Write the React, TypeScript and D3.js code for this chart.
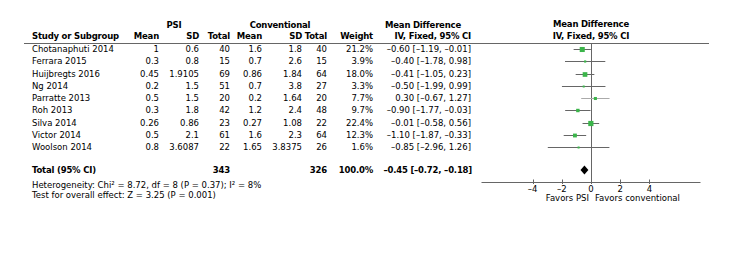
import React from "react";
import * as d3 from "d3";

const studies = ["Chotanaphuti 2014", "Ferrara 2015", "Huijbregts 2016", "Ng 2014", "Parratte 2013", "Roh 2013", "Silva 2014", "Victor 2014", "Woolson 2014"];
const psiMean = [1, 0.3, 0.45, 0.2, 0.5, 0.3, 0.26, 0.5, 0.8];
const psiSD = [0.6, 0.8, 1.9105, 1.5, 1.5, 1.8, 0.86, 2.1, 3.6087];
const psiTotal = [40, 15, 69, 51, 20, 42, 23, 61, 22];
const convMean = [1.6, 0.7, 0.86, 0.7, 0.2, 1.2, 0.27, 1.6, 1.65];
const convSD = [1.8, 2.6, 1.84, 3.8, 1.64, 2.4, 1.08, 2.3, 3.8375];
const convTotal = [40, 15, 64, 27, 20, 48, 22, 64, 26];
const weights = [21.2, 3.9, 18.0, 3.3, 7.7, 9.7, 22.4, 12.3, 1.6];
const md = [-0.6, -0.4, -0.41, -0.5, 0.3, -0.9, -0.01, -1.1, -0.85];
const ciLow = [-1.19, -1.78, -1.05, -1.99, -0.67, -1.77, -0.58, -1.87, -2.96];
const ciHigh = [-0.01, 0.98, 0.23, 0.99, 1.27, -0.03, 0.56, -0.33, 1.26];
const total = { psi: 343, conv: 326, weight: 100.0, md: -0.45, lo: -0.72, hi: -0.18 };
const axisTicks = [-4, -2, 0, 2, 4];
const heterogeneity = "Heterogeneity: Chi² = 8.72, df = 8 (P = 0.37); I² = 8%";
const overall = "Test for overall effect: Z = 3.25 (P = 0.001)";

const FONT = "'DejaVu Sans', sans-serif";
const FS = 8.5;
const MINUS = "\u2013";

const fmt = (v: number) => (v < 0 ? MINUS : "") + Math.abs(v).toFixed(2);
const ciText = (m: number, l: number, h: number) => `${fmt(m)} [${fmt(l)}, ${fmt(h)}]`;

export default function App() {
  const x = d3.scaleLinear().domain([-7.5, 7.5]).range([481.5, 700.5]);
  const y = d3.scaleLinear().domain([0, 8]).range([49, 147]);
  const sq = d3.scaleSqrt().domain([0, 22.4]).range([0, 5.2]);
  const totalY = 170;
  const axisY = 182.5;
  const zeroX = Math.round(x(0)) + 0.5;

  const cols = [
    { x: 159, vals: psiMean.map(String) },
    { x: 199, vals: psiSD.map(String) },
    { x: 230, vals: psiTotal.map(String) },
    { x: 262, vals: convMean.map(String) },
    { x: 302, vals: convSD.map(String) },
    { x: 327, vals: convTotal.map(String) },
    { x: 373, vals: weights.map((w) => w.toFixed(1) + "%") },
    { x: 471, vals: md.map((m, i) => ciText(m, ciLow[i], ciHigh[i])) },
  ];
  const headers = [
    { x: 159, t: "Mean" }, { x: 199, t: "SD" }, { x: 230, t: "Total" },
    { x: 262, t: "Mean" }, { x: 302, t: "SD" }, { x: 327, t: "Total" },
    { x: 373, t: "Weight" }, { x: 471, t: "IV, Fixed, 95% CI" },
  ];

  const dPts = [
    [x(total.lo), totalY], [x(total.md), totalY - 4.5], [x(total.hi), totalY], [x(total.md), totalY + 4.5],
  ];

  return (
    <svg width={755} height={274} style={{ position: "absolute", left: 0, top: 0, background: "#fff" }}
      fontFamily={FONT} fontSize={FS} fill="#000">
      <g fontWeight="bold" letterSpacing={-0.2}>
        <text x={174} y={28} textAnchor="middle">PSI</text>
        <text x={280} y={28} textAnchor="middle">Conventional</text>
        <text x={423} y={28} textAnchor="middle">Mean Difference</text>
        <text x={591} y={27} textAnchor="middle">Mean Difference</text>
        <text x={591} y={39} textAnchor="middle">IV, Fixed, 95% CI</text>
        <text x={32} y={39}>Study or Subgroup</text>
        {headers.map((h, i) => (
          <text key={i} x={h.x} y={39} textAnchor="end">{h.t}</text>
        ))}
      </g>
      <line x1={24} x2={709} y1={43.5} y2={43.5} stroke="#666" strokeWidth={1} />

      {studies.map((s, i) => (
        <text key={s} x={32} y={y(i) + 3}>{s}</text>
      ))}
      {cols.map((c, ci) =>
        c.vals.map((v, i) => (
          <text key={ci + "-" + i} x={c.x} y={y(i) + 3} textAnchor="end">{v}</text>
        ))
      )}

      <g fontWeight="bold" letterSpacing={-0.2}>
        <text x={32} y={totalY + 3}>Total (95% CI)</text>
        <text x={230} y={totalY + 3} textAnchor="end">{total.psi}</text>
        <text x={327} y={totalY + 3} textAnchor="end">{total.conv}</text>
        <text x={373} y={totalY + 3} textAnchor="end">{total.weight.toFixed(1) + "%"}</text>
        <text x={472} y={totalY + 3} textAnchor="end">{ciText(total.md, total.lo, total.hi)}</text>
      </g>
      <text x={32} y={188}>{heterogeneity}</text>
      <text x={32} y={198}>{overall}</text>

      <line x1={zeroX} x2={zeroX} y1={43.5} y2={axisY} stroke="#666" strokeWidth={1} />
      {studies.map((s, i) => {
        const cy = Math.round(y(i)) + 0.5;
        const w = Math.max(2, sq(weights[i]));
        return (
          <g key={s}>
            <line x1={x(ciLow[i])} x2={x(ciHigh[i])} y1={cy} y2={cy} stroke={i === 4 ? "#aaa" : "#666"} strokeWidth={1} />
            <rect x={x(md[i]) - w / 2} y={cy - w / 2} width={w} height={w} fill="#3bb54a" />
          </g>
        );
      })}
      <polygon points={dPts.map((p) => p.join(",")).join(" ")} fill="#000" />
      <line x1={x.range()[0]} x2={x.range()[1]} y1={axisY} y2={axisY} stroke="#666" strokeWidth={1} />
      {axisTicks.map((t) => (
        <g key={t}>
          <line x1={Math.round(x(t)) + 0.5} x2={Math.round(x(t)) + 0.5} y1={axisY - 3} y2={axisY + 1.5} stroke="#666" />
          <text x={x(t)} y={192} textAnchor="middle">{t < 0 ? MINUS + Math.abs(t) : t}</text>
        </g>
      ))}
      <text x={589} y={200.5} textAnchor="end">Favors PSI</text>
      <text x={595} y={200.5}>Favors conventional</text>
    </svg>
  );
}
